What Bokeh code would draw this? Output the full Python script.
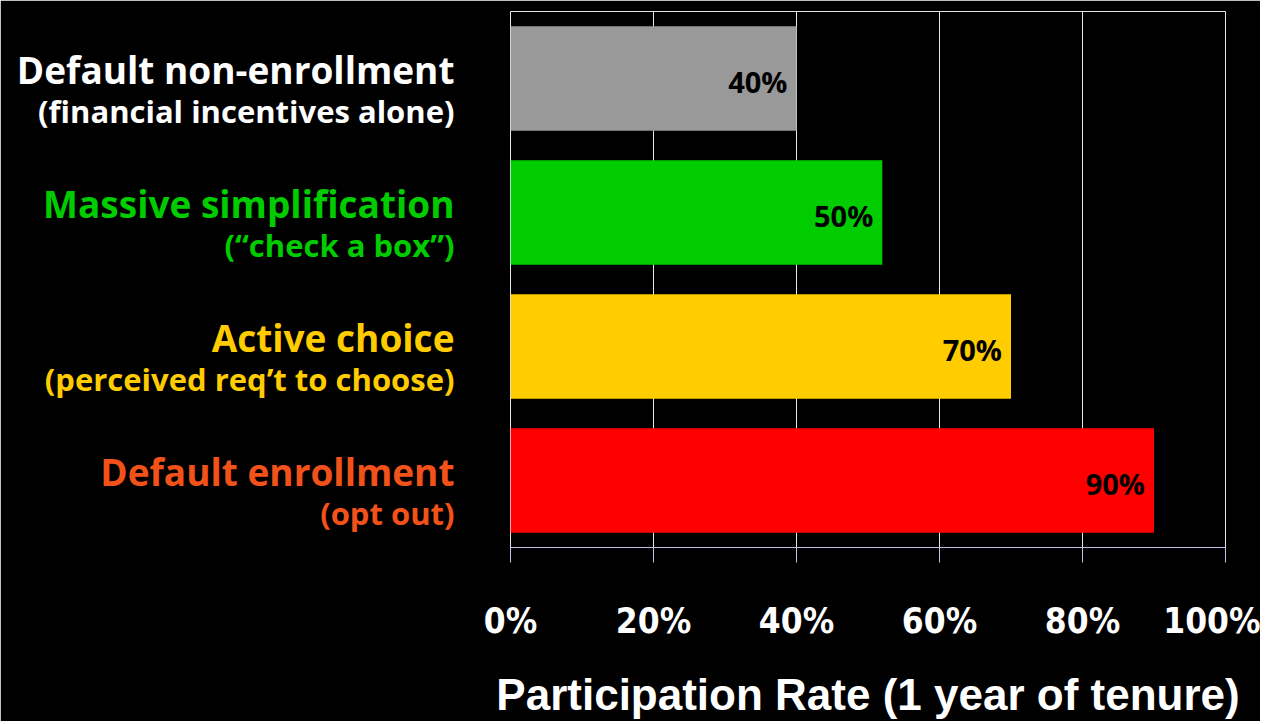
from bokeh.plotting import figure
from bokeh.models import FactorRange, Range1d, FixedTicker, ColumnDataSource
from bokeh.core.properties import value
from bokeh.embed import file_html
from bokeh.resources import INLINE

# ---- data ----
categories = ["Default non-enrollment", "Massive simplification", "Active choice", "Default enrollment"]
subtitles = ["(financial incentives alone)", "(\u201ccheck a box\u201d)", "(perceived req\u2019t to choose)", "(opt out)"]
rates = [40, 52, 70, 90]
rate_labels = ["40%", "50%", "70%", "90%"]
bar_colors = ["#999999", "#00cc00", "#ffcc00", "#ff0000"]
label_colors = ["#ffffff", "#00cc00", "#ffcc00", "#f2521a"]
tick_values = [0, 20, 40, 60, 80, 100]
tick_labels = ["0%", "20%", "40%", "60%", "80%", "100%"]
x_title = "Participation Rate (1 year of tenure)"

src = ColumnDataSource(dict(cat=categories, sub=subtitles, rate=rates, lab=rate_labels,
                            bcol=bar_colors, lcol=label_colors, zero=[0] * len(categories)))

p = figure(y_range=FactorRange(*categories[::-1]), x_range=Range1d(0, 100),
           frame_width=715, frame_height=536, output_backend="svg", toolbar_location=None,
           min_border_left=510, min_border_right=35, min_border_top=11, min_border_bottom=160)

p.background_fill_color = "black"
p.border_fill_color = "black"
p.outline_line_color = "#e6e6e6"
p.outline_line_width = 1

p.hbar(y="cat", left=0, right="rate", height=0.78, fill_color="bcol", line_color=None, source=src)

# value labels inside bars
p.text(x="rate", y="cat", text="lab", source=src, x_offset=-9, y_offset=3,
       text_align="right", text_baseline="middle", text_color="black",
       text_font=value("Open Sans"), text_font_style="bold", text_font_size="29px")

# category labels (two lines), right-aligned left of the frame
r1 = p.text(x="zero", y="cat", text="cat", source=src, x_offset=-56, y_offset=-9,
            text_align="right", text_baseline="alphabetic", text_color="lcol",
            text_font=value("Open Sans"), text_font_style="bold", text_font_size="37px")
r2 = p.text(x="zero", y="cat", text="sub", source=src, x_offset=-56, y_offset=32,
            text_align="right", text_baseline="alphabetic", text_color="lcol",
            text_font=value("Open Sans"), text_font_style="bold", text_font_size="31px")
r1.level = "annotation"
r2.level = "annotation"

p.yaxis.visible = False
p.ygrid.grid_line_color = None
p.xgrid.grid_line_color = "#e6e6e6"
p.xgrid.grid_line_width = 1
p.xaxis.ticker = FixedTicker(ticks=tick_values)
p.xaxis.major_label_overrides = {v: t for v, t in zip(tick_values, tick_labels)}
p.xaxis.axis_line_color = "#c0c0e8"
p.xaxis.major_tick_line_color = "#c0c0e8"
p.xaxis.major_tick_out = 15
p.xaxis.major_tick_in = 0
p.xaxis.minor_tick_line_color = None
p.xaxis.major_label_standoff = 38
p.xaxis.major_label_text_color = "white"
p.xaxis.major_label_text_font = "DejaVu Sans Condensed"
p.xaxis.major_label_text_font_style = "bold"
p.xaxis.major_label_text_font_size = "35px"
p.xaxis.axis_label = x_title
p.xaxis.axis_label_text_color = "white"
p.xaxis.axis_label_text_font = "Liberation Sans"
p.xaxis.axis_label_text_font_style = "bold"
p.xaxis.axis_label_text_font_size = "44px"
p.xaxis.axis_label_standoff = 26

open("out.html", "w").write(file_html(p, INLINE))
